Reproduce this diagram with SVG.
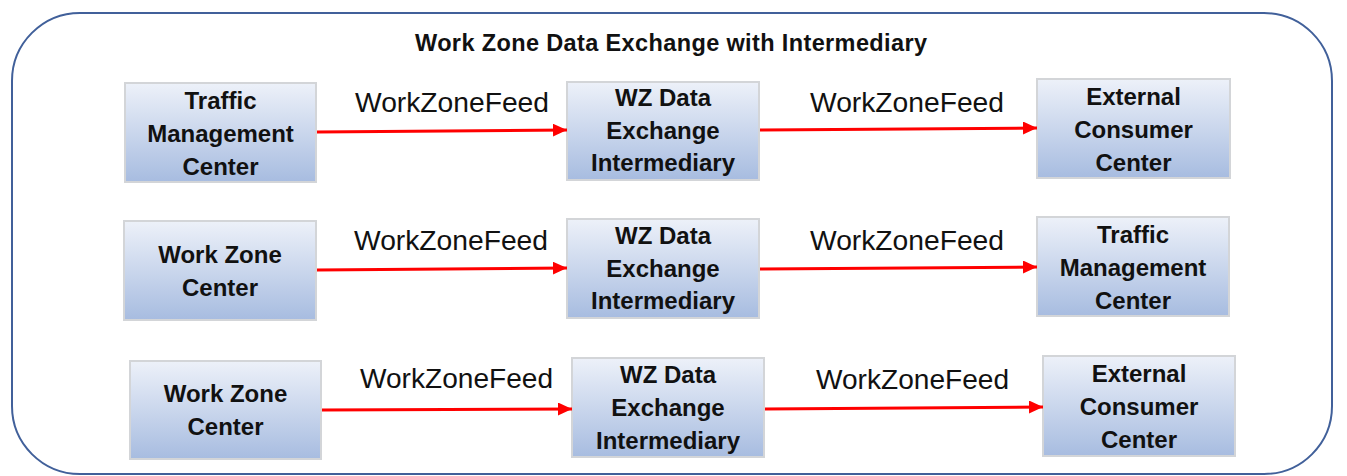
<svg xmlns="http://www.w3.org/2000/svg" width="1347" height="476" viewBox="0 0 1347 476">
<style>
.box{fill:url(#g);stroke:#d3d5d8;stroke-width:2}
.bt{font-family:"Liberation Sans",Arial,sans-serif;font-weight:bold;font-size:24px;fill:#111;text-anchor:middle}
.lbl{font-family:"Liberation Sans",Arial,sans-serif;font-size:27.5px;fill:#111}
.ttl{font-family:"Liberation Sans",Arial,sans-serif;font-weight:bold;font-size:23.5px;fill:#111}
.arr{stroke:#ff0000;stroke-width:3;fill:none;marker-end:url(#ah)}
</style>
<defs>
<linearGradient id="g" x1="0" y1="0" x2="0" y2="1">
<stop offset="0" stop-color="#edf1f9"/>
<stop offset="1" stop-color="#a7bce0"/>
</linearGradient>
<marker id="ah" markerUnits="userSpaceOnUse" markerWidth="15" markerHeight="13" refX="14" refY="6.5" orient="auto">
<path d="M0,0 L14,6.5 L0,13 Z" fill="#ff0000"/>
</marker>
</defs>
<rect x="0" y="0" width="1347" height="476" fill="#ffffff"/>
<rect id="frame" x="12" y="13" width="1320" height="461" rx="68" ry="68" fill="none" stroke="#41609a" stroke-width="2"/>
<text class="ttl" x="415" y="51" textLength="512" lengthAdjust="spacing">Work Zone Data Exchange with Intermediary</text>

<g id="r1-tmc"><rect class="box" x="125" y="83" width="191" height="99"/>
<text class="bt" x="220.5" y="109">Traffic</text><text class="bt" x="220.5" y="142">Management</text><text class="bt" x="220.5" y="175">Center</text></g>
<g id="r1-int"><rect class="box" x="567" y="82" width="192" height="98"/>
<text class="bt" x="663" y="106">WZ Data</text><text class="bt" x="663" y="139">Exchange</text><text class="bt" x="663" y="171">Intermediary</text></g>
<g id="r1-ext"><rect class="box" x="1037" y="79" width="193" height="99"/>
<text class="bt" x="1133.5" y="105">External</text><text class="bt" x="1133.5" y="138">Consumer</text><text class="bt" x="1133.5" y="171">Center</text></g>

<g id="r2-wzc"><rect class="box" x="124" y="221" width="192" height="99"/>
<text class="bt" x="220" y="263">Work Zone</text><text class="bt" x="220" y="296">Center</text></g>
<g id="r2-int"><rect class="box" x="567" y="219" width="192" height="99"/>
<text class="bt" x="663" y="244">WZ Data</text><text class="bt" x="663" y="277">Exchange</text><text class="bt" x="663" y="309">Intermediary</text></g>
<g id="r2-tmc"><rect class="box" x="1037" y="217" width="192" height="99"/>
<text class="bt" x="1133" y="243">Traffic</text><text class="bt" x="1133" y="276">Management</text><text class="bt" x="1133" y="309">Center</text></g>

<g id="r3-wzc"><rect class="box" x="130" y="361" width="191" height="98"/>
<text class="bt" x="225.5" y="402">Work Zone</text><text class="bt" x="225.5" y="435">Center</text></g>
<g id="r3-int"><rect class="box" x="572" y="358" width="192" height="99"/>
<text class="bt" x="668" y="383">WZ Data</text><text class="bt" x="668" y="416">Exchange</text><text class="bt" x="668" y="449">Intermediary</text></g>
<g id="r3-ext"><rect class="box" x="1043" y="356" width="192" height="100"/>
<text class="bt" x="1139" y="382">External</text><text class="bt" x="1139" y="415">Consumer</text><text class="bt" x="1139" y="448">Center</text></g>

<g id="connectors">
<path class="arr" d="M317,132 L567,130"/>
<path class="arr" d="M760,130 L1037,128"/>
<path class="arr" d="M317,270 L567,268"/>
<path class="arr" d="M760,269 L1037,267"/>
<path class="arr" d="M322,410 L572,409"/>
<path class="arr" d="M765,409 L1043,407"/>
<text class="lbl" x="355" y="112" textLength="194" lengthAdjust="spacingAndGlyphs">WorkZoneFeed</text>
<text class="lbl" x="810" y="112" textLength="194" lengthAdjust="spacingAndGlyphs">WorkZoneFeed</text>
<text class="lbl" x="354" y="250" textLength="194" lengthAdjust="spacingAndGlyphs">WorkZoneFeed</text>
<text class="lbl" x="810" y="250" textLength="194" lengthAdjust="spacingAndGlyphs">WorkZoneFeed</text>
<text class="lbl" x="360" y="388" textLength="193" lengthAdjust="spacingAndGlyphs">WorkZoneFeed</text>
<text class="lbl" x="816" y="389" textLength="193" lengthAdjust="spacingAndGlyphs">WorkZoneFeed</text>
</g>
</svg>
